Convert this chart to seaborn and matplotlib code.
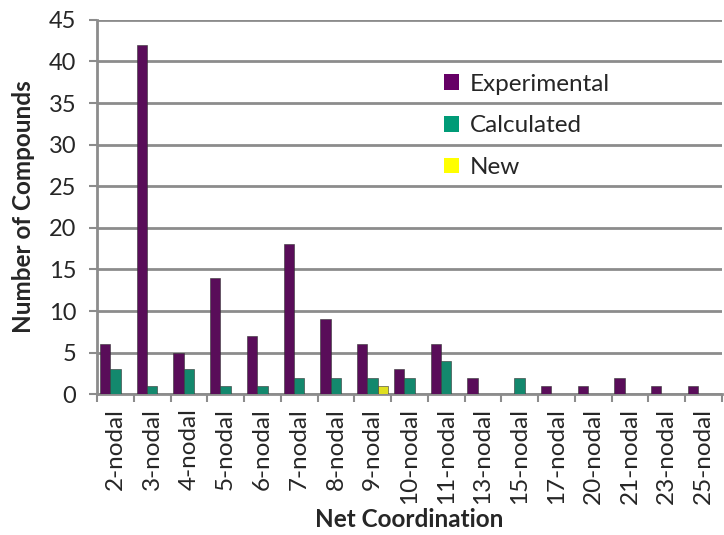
import matplotlib
matplotlib.use("Agg")
import matplotlib.pyplot as plt
from matplotlib.patches import Patch
import seaborn as sns
import pandas as pd

categories = ["2-nodal", "3-nodal", "4-nodal", "5-nodal", "6-nodal", "7-nodal",
              "8-nodal", "9-nodal", "10-nodal", "11-nodal", "13-nodal", "15-nodal",
              "17-nodal", "20-nodal", "21-nodal", "23-nodal", "25-nodal"]
experimental = [6, 42, 5, 14, 7, 18, 9, 6, 3, 6, 2, 0, 1, 1, 2, 1, 1]
calculated = [3, 1, 3, 1, 1, 2, 2, 2, 2, 4, 0, 2, 0, 0, 0, 0, 0]
new = [0, 0, 0, 0, 0, 0, 0, 1, 0, 0, 0, 0, 0, 0, 0, 0, 0]
series_names = ["Experimental", "Calculated", "New"]
colors = ["#660066", "#009B77", "#FFFF00"]
yticks = list(range(0, 50, 5))

rows = []
for name, vals in zip(series_names, [experimental, calculated, new]):
    for c, v in zip(categories, vals):
        rows.append({"Net Coordination": c, "Number of Compounds": v, "Series": name})
df = pd.DataFrame(rows)

sns.set_theme(style="white")
plt.rcParams["font.family"] = ["Lato", "DejaVu Sans"]

fig = plt.figure(figsize=(7.24, 5.35), dpi=100)
ax = fig.add_axes([0.134, 0.263, 0.863, 0.700])

sns.barplot(data=df, x="Net Coordination", y="Number of Compounds", hue="Series",
            hue_order=series_names, palette=colors, order=categories,
            width=0.85, edgecolor="#333333", linewidth=0.4, ax=ax, legend=False,
            zorder=3)

ax.set_ylim(0, 45)
ax.set_yticks(yticks)
ax.set_xlim(-0.5, len(categories) - 0.5)
ax.yaxis.grid(True, color="#8C8C8C", linewidth=2, zorder=0)
ax.set_axisbelow(True)

for s in ["top", "right"]:
    ax.spines[s].set_visible(False)
for s in ["left", "bottom"]:
    ax.spines[s].set_color("#8C8C8C")
    ax.spines[s].set_linewidth(2)

ax.set_xticks([i + 0.5 for i in range(-1, len(categories))], minor=True)
ax.set_xticks(range(len(categories)))
ax.set_xticklabels(categories, rotation=90, fontsize=17.5)
ax.tick_params(axis="x", which="major", length=0, pad=10)
ax.tick_params(axis="x", which="minor", length=6, width=1.5, color="#8C8C8C", bottom=True)
ax.tick_params(axis="y", length=6, width=1.5, color="#8C8C8C", left=True,
               labelsize=17, pad=9)

ax.set_xlabel("Net Coordination", fontsize=17.5, fontweight="bold", labelpad=3)
ax.set_ylabel("Number of Compounds", fontsize=17.5, fontweight="bold", labelpad=10)

handles = [Patch(facecolor=c, edgecolor="none") for c in colors]
fig.legend(handles, series_names, loc="upper left", bbox_to_anchor=(0.583, 0.903),
           frameon=False, fontsize=17.5, handlelength=0.6, handleheight=0.6,
           handletextpad=0.45, labelspacing=0.85)

fig.savefig("out.png", dpi=100)
